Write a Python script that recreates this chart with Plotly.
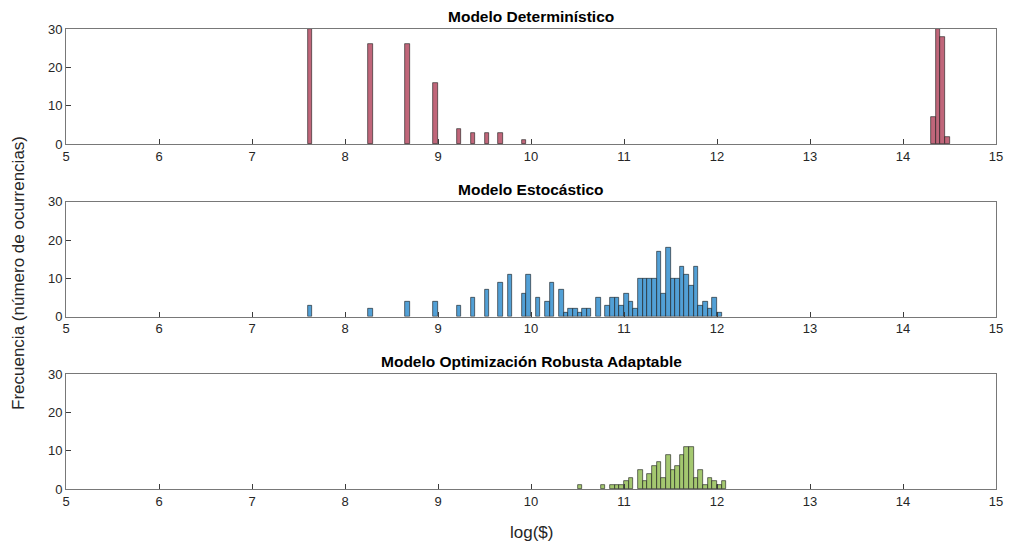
import plotly.graph_objects as go

# Bin centres (bin width 0.05) and counts for each model
det_x = [7.625, 8.275, 8.675, 8.975, 9.225, 9.375, 9.525, 9.675, 9.925,
         14.325, 14.375, 14.425, 14.475]
det_y = [30, 26, 26, 16, 4, 3, 3, 3, 1,
         7, 30, 28, 2]

sto_x = [7.625, 8.275, 8.675, 8.975, 9.225, 9.375, 9.525, 9.675, 9.775,
         9.925, 9.975, 10.075, 10.175, 10.225, 10.325, 10.375, 10.425, 10.475,
         10.525, 10.575, 10.625, 10.725, 10.825, 10.875, 10.925, 10.975,
         11.025, 11.075, 11.125, 11.175, 11.225, 11.275, 11.325, 11.375,
         11.425, 11.475, 11.525, 11.575, 11.625, 11.675, 11.725, 11.775,
         11.825, 11.875, 11.925, 11.975, 12.025]
sto_y = [3, 2, 4, 4, 3, 5, 7, 9, 11,
         6, 11, 5, 4, 9, 7, 1, 2, 2,
         1, 2, 2, 5, 3, 5, 5, 3,
         6, 4, 2, 10, 10, 10, 10, 17,
         6, 18, 10, 10, 13, 11, 8, 13,
         3, 4, 2, 5, 1]

rob_x = [10.525, 10.775, 10.875, 10.925, 10.975, 11.025, 11.075, 11.175,
         11.225, 11.275, 11.325, 11.375, 11.425, 11.475, 11.525, 11.575,
         11.625, 11.675, 11.725, 11.775, 11.825, 11.875, 11.925, 11.975,
         12.025, 12.075]
rob_y = [1, 1, 1, 1, 1, 2, 3, 5,
         2, 4, 6, 7, 3, 9, 5, 6,
         9, 11, 11, 3, 5, 1, 3, 2,
         1, 2]

titles = ["Modelo Determinístico", "Modelo Estocástico",
          "Modelo Optimización Robusta Adaptable"]
colors = ["rgb(192,102,122)", "rgb(82,160,214)", "rgb(164,200,112)"]
bin_width = 0.05
x_ticks = list(range(5, 16))
y_ticks = [0, 10, 20, 30]

domains = [[0.7493, 1.0], [0.3746, 0.6246], [0.0, 0.25]]
series = [(det_x, det_y), (sto_x, sto_y), (rob_x, rob_y)]

fig = go.Figure()
axis_color = "rgb(120,120,120)"
font_fam = "Liberation Sans, Arial, sans-serif"

for i, ((xs, ys), col, dom) in enumerate(zip(series, colors, domains)):
    n = "" if i == 0 else str(i + 1)
    fig.add_trace(go.Bar(
        x=xs, y=ys, width=bin_width,
        marker=dict(color=col, line=dict(color="rgba(20,20,20,0.85)", width=0.7)),
        xaxis="x" + n, yaxis="y" + n, showlegend=False,
    ))
    fig.layout["xaxis" + n] = dict(
        domain=[0, 1], anchor="y" + n, range=[5, 15],
        tickvals=x_ticks, ticktext=[str(v) for v in x_ticks],
        ticks="inside", ticklen=5, tickcolor="rgb(60,60,60)",
        showline=True, linecolor=axis_color, linewidth=1, mirror=True,
        showgrid=False, zeroline=False,
        tickfont=dict(family=font_fam, size=13, color="rgb(38,38,38)"),
    )
    fig.layout["yaxis" + n] = dict(
        domain=dom, anchor="x" + n, range=[0, 30],
        tickvals=y_ticks, ticktext=[str(v) for v in y_ticks],
        ticks="inside", ticklen=5, tickcolor="rgb(60,60,60)",
        showline=True, linecolor=axis_color, linewidth=1, mirror=True,
        showgrid=False, zeroline=False,
        tickfont=dict(family=font_fam, size=13, color="rgb(38,38,38)"),
    )
    fig.add_annotation(
        text="<b>" + titles[i] + "</b>", xref="paper", yref="paper",
        x=0.5, y=dom[1], yshift=2, xanchor="center", yanchor="bottom",
        showarrow=False, font=dict(family=font_fam, size=15.5, color="black"),
    )

fig.add_annotation(
    text="Frecuencia (número de ocurrencias)", xref="paper", yref="paper",
    x=0, xshift=-48, y=0.5, yshift=-14, textangle=-90,
    xanchor="center", yanchor="middle",
    showarrow=False, font=dict(family=font_fam, size=17, color="rgb(38,38,38)"),
)
fig.add_annotation(
    text="log($)", xref="paper", yref="paper",
    x=0.5, y=0, yshift=-32, xanchor="center", yanchor="top",
    showarrow=False, font=dict(family=font_fam, size=17, color="rgb(38,38,38)"),
)

# page body has an 8px margin, so the figure is sized/offset to compensate
fig.update_layout(
    width=1006, height=537,
    margin=dict(l=58, r=11, t=21, b=56),
    plot_bgcolor="white", paper_bgcolor="white",
    bargap=0,
)

fig.write_html("out.html")
